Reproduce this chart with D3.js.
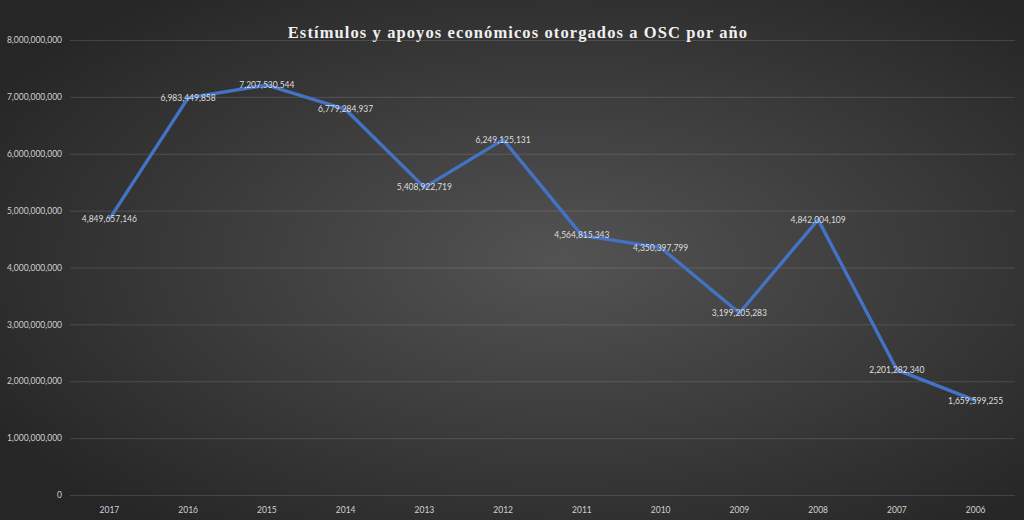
<!DOCTYPE html>
<html>
<head>
<meta charset="utf-8">
<script src="https://cdn.jsdelivr.net/npm/d3@7"></script>
<style>
  html, body { margin: 0; padding: 0; background: #2b2b2b; }
  svg { display: block; }
</style>
</head>
<body>
<div class="visHolder"></div>
<script>
const years = ['2017', '2016', '2015', '2014', '2013', '2012', '2011', '2010', '2009', '2008', '2007', '2006'];
const amounts = [4849657146, 6983449858, 7207530544, 6779284937, 5408922719, 6249125131,
    4564815343, 4350397799, 3199205283, 4842004109, 2201282340, 1659599255];
const yTicks = [0, 1000000000, 2000000000, 3000000000, 4000000000, 5000000000, 6000000000, 7000000000, 8000000000];
const title = 'Estímulos y apoyos económicos otorgados a OSC por año';

const width = 1024,
    height = 520,
    plotLeft = 70,
    plotRight = 1015,
    plotTop = 40,
    plotBottom = 495;

const svg = d3.select('.visHolder')
    .append('svg')
    .attr('width', width)
    .attr('height', height);

// fondo con degradado radial
const grad = svg.append('defs')
    .append('radialGradient')
    .attr('id', 'bg')
    .attr('cx', '55%')
    .attr('cy', '50%')
    .attr('r', '65%');
grad.append('stop').attr('offset', '0%').attr('stop-color', '#535353');
grad.append('stop').attr('offset', '100%').attr('stop-color', '#262626');

svg.append('rect')
    .attr('width', width)
    .attr('height', height)
    .attr('fill', 'url(#bg)');

const xScale = d3.scaleBand()
    .domain(years)
    .range([plotLeft, plotRight]);

const yScale = d3.scaleLinear()
    .domain([0, 8000000000])
    .range([plotBottom, plotTop]);

// rejilla + eje Y
const yAxis = d3.axisLeft(yScale)
    .tickValues(yTicks)
    .tickSize(-(plotRight - plotLeft))
    .tickPadding(8)
    .tickFormat(d3.format(','));

svg.append('g')
    .attr('transform', `translate(${plotLeft},0)`)
    .call(yAxis)
    .call(g => g.select('.domain').remove())
    .call(g => g.selectAll('line').attr('stroke', 'rgba(255,255,255,0.13)').attr('stroke-width', 1))
    .call(g => g.selectAll('text')
        .attr('fill', '#d0d0d0')
        .style('font-family', 'Lato, sans-serif')
        .style('font-size', '8.5px'));

// eje X
const xAxis = d3.axisBottom(xScale).tickSize(0).tickPadding(12);

svg.append('g')
    .attr('transform', `translate(0,${plotBottom})`)
    .call(xAxis)
    .call(g => g.select('.domain').remove())
    .call(g => g.selectAll('text')
        .attr('fill', '#d0d0d0')
        .style('font-family', 'Lato, sans-serif')
        .style('font-size', '8.5px'));

const line = d3.line()
    .x((d, i) => xScale(years[i]) + xScale.bandwidth() / 2)
    .y(d => yScale(d));

svg.append('path')
    .datum(amounts)
    .attr('d', line)
    .attr('fill', 'none')
    .attr('stroke', '#4472c4')
    .attr('stroke-width', 3.4)
    .attr('stroke-linejoin', 'round');

svg.selectAll('.label')
    .data(amounts)
    .enter()
    .append('text')
    .attr('class', 'label')
    .attr('x', (d, i) => xScale(years[i]) + xScale.bandwidth() / 2)
    .attr('y', d => yScale(d))
    .attr('dy', '0.35em')
    .attr('text-anchor', 'middle')
    .attr('fill', '#dedede')
    .style('font-family', 'Lato, sans-serif')
    .style('font-size', '8.5px')
    .text(d => d3.format(',')(d));

svg.append('text')
    .attr('x', 518)
    .attr('y', 38)
    .attr('text-anchor', 'middle')
    .attr('fill', '#f0f0f0')
    .style('font-family', '"Liberation Serif", serif')
    .style('font-weight', 'bold')
    .style('font-size', '16.5px')
    .style('letter-spacing', '1.1px')
    .text(title);
</script>
</body>
</html>
